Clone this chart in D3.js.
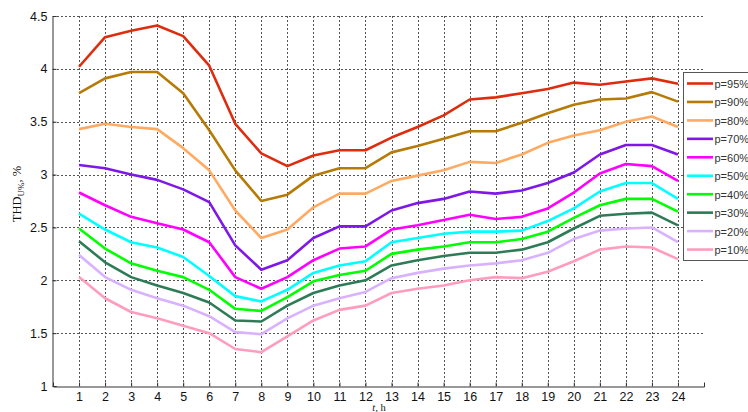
<!DOCTYPE html>
<html>
<head>
<meta charset="utf-8">
<script src="https://cdn.jsdelivr.net/npm/d3@7"></script>
<style>
  html, body { margin: 0; padding: 0; background: #fff; }
  svg { display: block; }
</style>
</head>
<body>
<svg id="chart" width="748" height="412"></svg>
<script>
// Hours of the day
const hours = d3.range(1, 25);

// Percentile series of THD_U (%) by hour
const p95 = [4.02, 4.30, 4.36, 4.41, 4.31, 4.03, 3.48, 3.20, 3.08, 3.18, 3.23, 3.23, 3.35, 3.45, 3.56, 3.71, 3.73, 3.77, 3.81, 3.87, 3.85, 3.88, 3.91, 3.86];
const p90 = [3.77, 3.91, 3.97, 3.97, 3.77, 3.42, 3.04, 2.75, 2.81, 2.99, 3.06, 3.06, 3.21, 3.27, 3.34, 3.41, 3.41, 3.49, 3.58, 3.66, 3.71, 3.72, 3.78, 3.69];
const p80 = [3.43, 3.48, 3.45, 3.43, 3.25, 3.04, 2.66, 2.40, 2.48, 2.69, 2.82, 2.82, 2.94, 2.99, 3.04, 3.12, 3.11, 3.19, 3.30, 3.37, 3.42, 3.50, 3.55, 3.45];
const p70 = [3.09, 3.06, 3.00, 2.95, 2.86, 2.74, 2.33, 2.10, 2.19, 2.40, 2.51, 2.51, 2.66, 2.73, 2.77, 2.84, 2.82, 2.85, 2.92, 3.02, 3.19, 3.28, 3.28, 3.19];
const p60 = [2.83, 2.71, 2.60, 2.54, 2.48, 2.36, 2.03, 1.92, 2.03, 2.19, 2.30, 2.32, 2.48, 2.52, 2.57, 2.62, 2.58, 2.60, 2.68, 2.83, 3.01, 3.10, 3.08, 2.94];
const p50 = [2.63, 2.48, 2.36, 2.31, 2.22, 2.04, 1.85, 1.80, 1.91, 2.07, 2.14, 2.18, 2.36, 2.40, 2.44, 2.46, 2.46, 2.47, 2.56, 2.68, 2.84, 2.92, 2.92, 2.77];
const p40 = [2.49, 2.30, 2.16, 2.09, 2.03, 1.91, 1.73, 1.71, 1.84, 1.99, 2.05, 2.09, 2.25, 2.29, 2.32, 2.36, 2.36, 2.39, 2.46, 2.59, 2.71, 2.77, 2.77, 2.65];
const p30 = [2.37, 2.17, 2.03, 1.95, 1.88, 1.79, 1.62, 1.61, 1.76, 1.88, 1.95, 2.00, 2.14, 2.19, 2.23, 2.26, 2.26, 2.29, 2.36, 2.49, 2.61, 2.63, 2.64, 2.52];
const p20 = [2.24, 2.03, 1.91, 1.83, 1.76, 1.66, 1.51, 1.49, 1.64, 1.76, 1.83, 1.89, 2.02, 2.07, 2.11, 2.14, 2.16, 2.19, 2.26, 2.39, 2.47, 2.49, 2.50, 2.36];
const p10 = [2.03, 1.83, 1.70, 1.64, 1.57, 1.50, 1.35, 1.32, 1.47, 1.62, 1.72, 1.76, 1.88, 1.92, 1.95, 2.00, 2.03, 2.02, 2.08, 2.18, 2.29, 2.32, 2.31, 2.20];

const seriesNames = ["p=95%", "p=90%", "p=80%", "p=70%", "p=60%", "p=50%", "p=40%", "p=30%", "p=20%", "p=10%"];
const seriesValues = [p95, p90, p80, p70, p60, p50, p40, p30, p20, p10];
const seriesColors = ["#de2c0e", "#b67a06", "#ffaa62", "#7f18e6", "#ff00ff", "#00ffff", "#00ff00", "#2e7b57", "#d9b2ff", "#ff9cbf"];

// Axis ticks
const xTicks = hours;
const yTicks = [1, 1.5, 2, 2.5, 3, 3.5, 4, 4.5];

const svg = d3.select("#chart");
const plotLeft = 53, plotRight = 704, plotTop = 16, plotBottom = 386;

const x = d3.scaleLinear().domain([0, 25]).range([plotLeft, plotRight]);
const y = d3.scaleLinear().domain([1, 4.5]).range([plotBottom, plotTop]);

const font = "Arial, 'Liberation Sans', sans-serif";

// Dotted grid
const grid = svg.append("g").attr("stroke", "#555").attr("stroke-width", 1)
  .attr("stroke-dasharray", "2,2").attr("shape-rendering", "crispEdges");
grid.selectAll("line.h").data(yTicks.filter(v => v > 1)).join("line").attr("class", "h")
  .attr("x1", plotLeft).attr("x2", plotRight)
  .attr("y1", d => Math.round(y(d)) + 0.5).attr("y2", d => Math.round(y(d)) + 0.5);
grid.selectAll("line.v").data(xTicks).join("line").attr("class", "v")
  .attr("y1", plotTop).attr("y2", plotBottom)
  .attr("x1", d => Math.round(x(d)) + 0.5).attr("x2", d => Math.round(x(d)) + 0.5);

// Axes
const xAxis = svg.append("g").attr("transform", `translate(0,${plotBottom + 0.5})`)
  .call(d3.axisBottom(x).tickValues(xTicks).tickSize(-4).tickPadding(6).tickFormat(d3.format("d")));
const yAxis = svg.append("g").attr("transform", `translate(${plotLeft - 0.5},0)`)
  .call(d3.axisLeft(y).tickValues(yTicks).tickSize(-4).tickPadding(5).tickFormat(d => String(d)));
[xAxis, yAxis].forEach(g => {
  g.select(".domain").attr("stroke", "#333").attr("stroke-width", 1);
  g.selectAll(".tick line").attr("stroke", "#333");
  g.selectAll(".tick text").attr("fill", "#111").attr("font-size", 12.5).attr("font-family", font);
});

// Series lines
const line = d3.line().x((d, i) => x(hours[i])).y(d => y(d));
svg.append("g").selectAll("path").data(seriesValues).join("path")
  .attr("d", line)
  .attr("fill", "none")
  .attr("stroke", (d, i) => seriesColors[i])
  .attr("stroke-width", 2.6)
  .attr("stroke-linejoin", "round");

// Axis titles
const yl = svg.append("text")
  .attr("transform", "translate(21,194) rotate(-90)")
  .attr("text-anchor", "middle")
  .attr("font-family", "'Liberation Serif', 'Times New Roman', serif")
  .attr("font-size", 12.5)
  .attr("fill", "#111");
yl.append("tspan").text("THD");
yl.append("tspan").attr("dy", 3).attr("font-size", 9).text("U%");
yl.append("tspan").attr("dy", -3).text(", %");

const xl = svg.append("text")
  .attr("x", 379).attr("y", 410.5)
  .attr("text-anchor", "middle")
  .attr("font-family", "'Liberation Serif', 'Times New Roman', serif")
  .attr("font-size", 10.5)
  .attr("fill", "#111");
xl.append("tspan").attr("font-style", "italic").text("t");
xl.append("tspan").text(", h");

// Legend
const lg = svg.append("g").attr("transform", "translate(683,72)");
lg.append("rect").attr("x", 0.5).attr("y", 0.5).attr("width", 80).attr("height", 188)
  .attr("fill", "#fff").attr("stroke", "#555").attr("stroke-width", 1);
const items = lg.selectAll("g.item").data(seriesNames).join("g").attr("class", "item")
  .attr("transform", (d, i) => `translate(0,${11.5 + i * 18.45})`);
items.append("line").attr("x1", 4).attr("x2", 30).attr("y1", 0).attr("y2", 0)
  .attr("stroke", (d, i) => seriesColors[i]).attr("stroke-width", 2.6);
items.append("text").attr("x", 31.5).attr("y", 4.5)
  .attr("font-family", font).attr("font-size", 11).attr("fill", "#333")
  .text(d => d);
</script>
</body>
</html>
